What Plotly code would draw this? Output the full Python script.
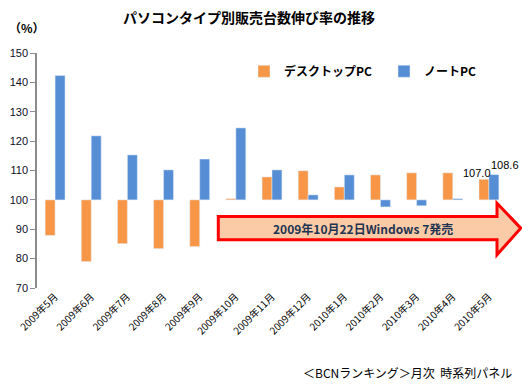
import plotly.graph_objects as go

categories = ["2009年5月", "2009年6月", "2009年7月", "2009年8月", "2009年9月", "2009年10月",
              "2009年11月", "2009年12月", "2010年1月", "2010年2月", "2010年3月", "2010年4月", "2010年5月"]
desktop = [87.9, 79.0, 85.1, 83.4, 84.1, 100.4, 107.8, 109.9, 104.4, 108.5, 109.2, 109.2, 107.0]
notebook = [142.3, 121.8, 115.3, 110.2, 113.9, 124.5, 110.2, 101.7, 108.5, 97.6, 98.0, 100.4, 108.6]
series_names = ["デスクトップPC", "ノートPC"]
y_ticks = [70, 80, 90, 100, 110, 120, 130, 140, 150]

ORANGE = "#F79646"
BLUE = "#558ED5"
JP = "Noto Sans CJK JP"
BASE = 100

# the page body has an 8px default margin, so the figure is placed at (8, 8)
OFF = 8
W, H = 530 - OFF, 390 - OFF
L, R, T, B = 37 - OFF, 507 - OFF, 52.7 - OFF, 288.3 - OFF


def px(x):
    return (x - OFF - L) / (R - L)


def py(y):
    return (B - (y - OFF)) / (B - T)


fig = go.Figure()
fig.add_trace(go.Bar(name=series_names[0], x=categories, y=[v - BASE for v in desktop],
                     base=BASE, marker_color=ORANGE, legend="legend"))
fig.add_trace(go.Bar(name=series_names[1], x=categories, y=[v - BASE for v in notebook],
                     base=BASE, marker_color=BLUE, legend="legend2"))

n = len(categories)
leg_common = dict(orientation="h", yanchor="middle", xanchor="left", bgcolor="rgba(0,0,0,0)",
                  font=dict(family=JP, size=12, color="black", weight="bold"), itemwidth=30)
fig.update_layout(
    width=W, height=H,
    margin=dict(l=L, r=W - R, t=T, b=H - B, pad=0, autoexpand=False),
    paper_bgcolor="white", plot_bgcolor="white",
    barmode="group", bargap=0.45, bargroupgap=0,
    font=dict(family=JP, size=11, color="black"),
    title=dict(text="パソコンタイプ別販売台数伸び率の推移", x=(249 - OFF) / W, xanchor="center",
               y=1 - (18 - OFF) / H, yanchor="middle", xref="container", yref="container",
               font=dict(family=JP, size=14, color="black", weight="bold")),
    showlegend=True,
    legend=dict(x=px(244), y=py(71), **leg_common),
    legend2=dict(x=px(384), y=py(71), **leg_common),
    xaxis=dict(range=[-0.5, n - 0.5], showline=False, ticks="", showgrid=False, automargin=False,
               tickangle=-45, tickfont=dict(family=JP, size=10, color="black"), zeroline=False),
    xaxis2=dict(range=[-0.5, n - 0.5], overlaying="x", anchor="free", automargin=False,
                position=(BASE - y_ticks[0]) / (y_ticks[-1] - y_ticks[0]),
                showline=True, linecolor="#8C8C8C", linewidth=1.5, ticks="outside", ticklen=5,
                tickcolor="#8C8C8C", tickvals=[i - 0.5 for i in range(n + 1)],
                showticklabels=False, showgrid=False, zeroline=False),
    yaxis=dict(range=[y_ticks[0], y_ticks[-1]], tickvals=y_ticks, showline=True, automargin=False,
               linecolor="#8C8C8C", linewidth=1.5, ticks="outside", ticklen=5, tickcolor="#8C8C8C",
               showgrid=False, zeroline=False,
               tickfont=dict(family="Liberation Sans", size=11, color="#0d0d26")),
)

# Windows 7 launch arrow
x0, x1, x2 = px(218.3), px(497), px(520.7)
yt, yb = py(216.7), py(240)
yht, yhb, ytip = py(203.3), py(255), py(228.3)
fig.add_shape(type="path", xref="paper", yref="paper",
              path=f"M {x0},{yt} L {x1},{yt} L {x1},{yht} L {x2},{ytip} L {x1},{yhb} L {x1},{yb} L {x0},{yb} Z",
              fillcolor="#FACBA6", line=dict(color="#FF0000", width=3), layer="above")
fig.add_annotation(xref="paper", yref="paper", x=px(363), y=py(228.3), xanchor="center",
                   yanchor="middle", showarrow=False,
                   text="2009年10月22日Windows 7発売",
                   font=dict(family=JP, size=12, color="#1F3352", weight="bold"))

# data labels for the latest month
fig.add_annotation(x=categories[-1], y=desktop[-1], text=f"{desktop[-1]:.1f}", showarrow=False,
                   xshift=-12, yanchor="bottom", yshift=-2,
                   font=dict(family="Liberation Sans", size=11, color="black"))
fig.add_annotation(x=categories[-1], y=notebook[-1], text=f"{notebook[-1]:.1f}", showarrow=False,
                   xshift=16, yanchor="bottom", yshift=2,
                   font=dict(family="Liberation Sans", size=11, color="black"))

# unit label
fig.add_annotation(xref="paper", yref="paper", x=px(27), y=py(27), xanchor="center",
                   yanchor="middle", showarrow=False,
                   text="（%）", font=dict(family=JP, size=12, color="black", weight="bold"))

# source caption
fig.add_annotation(xref="paper", yref="paper", x=px(514), y=py(373), xanchor="right",
                   yanchor="middle", showarrow=False, text="＜BCNランキング＞月次  時系列パネル",
                   font=dict(family=JP, size=12, color="black"))

fig.write_html("out.html")
